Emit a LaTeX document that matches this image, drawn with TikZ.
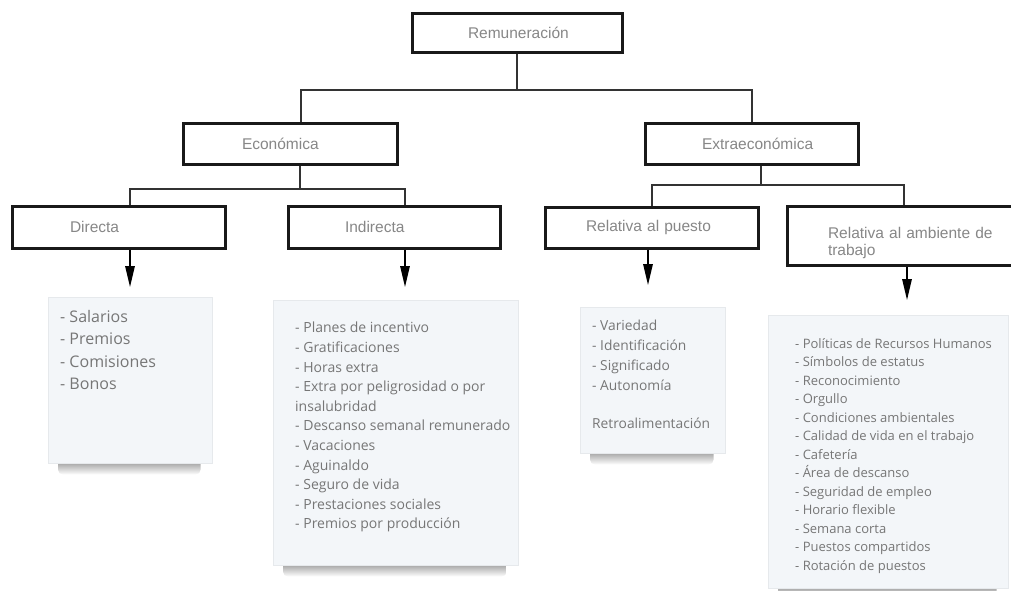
\documentclass[tikz,border=0pt]{standalone}
\usepackage{fontspec}
\usepackage{tikz}
\usetikzlibrary{calc,arrows.meta,positioning,backgrounds}
\newfontfamily\boxfont{Liberation Sans}
\newfontfamily\cardfont{Open Sans}
\definecolor{remgrey}{RGB}{135,135,135}
\definecolor{cardgrey}{RGB}{118,118,118}
\definecolor{cardfill}{RGB}{243,246,249}
\definecolor{cardedge}{RGB}{230,233,236}
\tikzset{
  rbox/.style={rectangle, draw=black!90, line width=3pt, fill=white, inner ysep=0pt,
               align=left, text=remgrey, font=\boxfont\fontsize{15.5}{17}\selectfont},
  rline/.style={line width=1.6pt, black!80},
  rarrow/.style={-{Triangle[length=21pt,width=9.5pt]}, line width=1.5pt, black},
  rcard/.style={rectangle, fill=cardfill, draw=cardedge, line width=0.6pt, inner sep=0pt,
                anchor=north west},
  rcardtext/.style={anchor=north west, inner sep=0pt, align=left, text=cardgrey},
  rshadow/.style={top color=black!50, bottom color=white, rounded corners=5pt},
}
\begin{document}
\begin{tikzpicture}[x=1pt, y=-1pt]
  \useasboundingbox (0,0) rectangle (1011,590);
  % boxes
  \node[rbox, minimum height=39pt, text width=98pt, inner xsep=56pt] (rem) at (517,32.5) {Remuneración};
  \node[rbox, minimum height=41pt, text width=96pt, inner xsep=59pt] (eco) at (290,143.5) {Económica};
  \node[rbox, minimum height=41pt, text width=99pt, inner xsep=57pt] (ext) at (751.5,143.5) {Extraeconómica};
  \node[rbox, minimum height=42pt, text width=97pt, inner xsep=58pt] (dir) at (118.5,227) {Directa};
  \node[rbox, minimum height=42pt, text width=98pt, inner xsep=57pt] (ind) at (394,227) {Indirecta};
  \node[rbox, minimum height=41pt, text width=131pt, inner xsep=41pt] (pue) at (651.5,227.5) {Relativa al puesto};
  \node[rbox, minimum height=59pt, text width=168pt, inner xsep=41pt] (amb) at (912,235.5)
    {\rule{0pt}{27pt}Relativa al ambiente de\\trabajo};
  % connectors
  \coordinate (remj) at (517,90);
  \coordinate (remL) at (301,90);
  \coordinate (remR) at (752,90);
  \draw[rline] (rem.south) -- (remj);
  \draw[rline] (remL |- eco.north) -- (remL) -- (remR) -- (remR |- ext.north);
  \coordinate (ecoj) at (300,189);
  \coordinate (ecoL) at (130,189);
  \coordinate (ecoR) at (405,189);
  \draw[rline] (ecoj |- eco.south) -- (ecoj);
  \draw[rline] (ecoL |- dir.north) -- (ecoL) -- (ecoR) -- (ecoR |- ind.north);
  \coordinate (extj) at (761,185);
  \coordinate (extL) at (652,185);
  \coordinate (extR) at (904,185);
  \draw[rline] (extj |- ext.south) -- (extj);
  \draw[rline] (extL |- pue.north) -- (extL) -- (extR) -- (extR |- amb.north);
  % arrows
  \coordinate (tipdir) at (130,287);
  \coordinate (tipind) at (405,287);
  \coordinate (tippue) at (648,285);
  \coordinate (tipamb) at (907,300);
  \foreach \b in {dir,ind,pue,amb} {
    \draw[rarrow] (\b.south -| tip\b) -- (tip\b);
  }
  % cards
  \node[rcard, minimum width=164pt, minimum height=166pt] (dircard) at (48,297) {};
  \node[rcard, minimum width=245pt, minimum height=265pt] (indcard) at (273,300) {};
  \node[rcard, minimum width=145pt, minimum height=146pt] (puecard) at (580,307) {};
  \node[rcard, minimum width=240pt, minimum height=273pt] (ambcard) at (768,315) {};
  \begin{scope}[on background layer]
    \foreach \c in {dircard,indcard,puecard,ambcard} {
      \shade[rshadow] ([shift={(10,-6)}]\c.south west) rectangle ([shift={(-12,11)}]\c.south east);
    }
  \end{scope}
  \node[rcardtext, font=\cardfont\fontsize{16}{22.5}\selectfont] (dirtext)
    at ([shift={(12,13)}]dircard.north west)
    {- Salarios\\- Premios\\- Comisiones\\- Bonos};
  \node[rcardtext, font=\cardfont\fontsize{14}{19.6}\selectfont] (indtext)
    at ([shift={(22,22)}]indcard.north west)
    {- Planes de incentivo\\- Gratificaciones\\- Horas extra\\- Extra por peligrosidad o por\\insalubridad\\
     - Descanso semanal remunerado\\- Vacaciones\\- Aguinaldo\\- Seguro de vida\\- Prestaciones sociales\\
     - Premios por producción};
  \node[rcardtext, font=\cardfont\fontsize{13.8}{20}\selectfont] (puetext)
    at ([shift={(12,13)}]puecard.north west)
    {- Variedad\\- Identificación\\- Significado\\- Autonomía\\[18pt]Retroalimentación};
  \node[rcardtext, font=\cardfont\fontsize{13}{18.5}\selectfont] (ambtext)
    at ([shift={(27,23)}]ambcard.north west)
    {- Políticas de Recursos Humanos\\- Símbolos de estatus\\- Reconocimiento\\- Orgullo\\
     - Condiciones ambientales\\- Calidad de vida en el trabajo\\- Cafetería\\- Área de descanso\\
     - Seguridad de empleo\\- Horario flexible\\- Semana corta\\- Puestos compartidos\\
     - Rotación de puestos};
\end{tikzpicture}
\end{document}
